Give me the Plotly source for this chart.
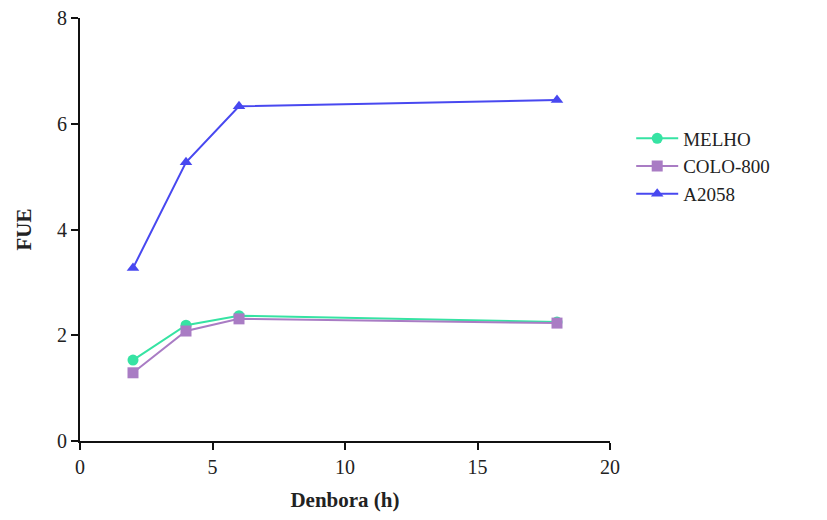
import plotly.graph_objects as go

hours = [2, 4, 6, 18]
melho = [1.53, 2.19, 2.37, 2.25]
colo800 = [1.29, 2.08, 2.31, 2.23]
a2058 = [3.27, 5.27, 6.33, 6.45]

x_ticks = [0, 5, 10, 15, 20]
y_ticks = [0, 2, 4, 6, 8]

series = [
    ("MELHO", melho, "#36e3a3", "circle"),
    ("COLO-800", colo800, "#a97cc4", "square"),
    ("A2058", a2058, "#4848f0", "triangle-up"),
]

fig = go.Figure()
for name, vals, color, sym in series:
    fig.add_trace(go.Scatter(
        x=hours, y=vals, name=name, mode="lines+markers",
        line=dict(color=color, width=2),
        marker=dict(symbol=sym, size=11, color=color),
    ))

font = "Liberation Serif, Times New Roman, serif"
fig.update_layout(
    width=827, height=520,
    margin=dict(l=72, r=225, t=10, b=87),
    paper_bgcolor="white", plot_bgcolor="white",
    font=dict(family=font, size=20, color="#222"),
    showlegend=True,
    legend=dict(x=1.04, y=0.76, xanchor="left", yanchor="top",
                font=dict(family=font, size=19, color="#222"),
                itemwidth=42, tracegroupgap=0),
    xaxis=dict(range=[0, 20], tickvals=x_ticks, showgrid=False, zeroline=False,
               automargin=False, ticklabeloverflow="allow",
               showline=True, linecolor="#111", linewidth=2,
               ticks="outside", ticklen=7, tickwidth=2, tickcolor="#111",
               title=dict(text="<b>Denbora (h)</b>", font=dict(family=font, size=21), standoff=15)),
    yaxis=dict(range=[0, 8], tickvals=y_ticks, showgrid=False, zeroline=False,
               automargin=False, ticklabeloverflow="allow",
               showline=True, linecolor="#111", linewidth=2,
               ticks="outside", ticklen=7, tickwidth=2, tickcolor="#111",
               title=dict(text="<b>FUE</b>", font=dict(family=font, size=21), standoff=20)),
)
fig.write_html("out.html")
